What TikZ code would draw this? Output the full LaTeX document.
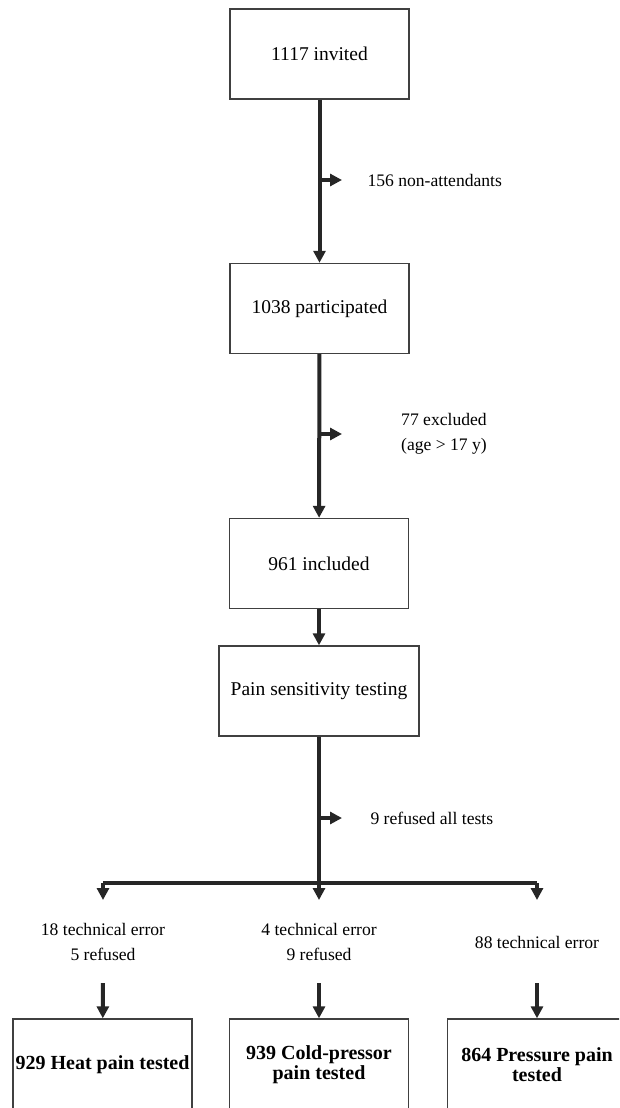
\documentclass[tikz,border=0pt]{standalone}
\usepackage{fontspec}
\setmainfont{Liberation Serif}
\usetikzlibrary{arrows.meta, positioning}

\begin{document}
\begin{tikzpicture}[
  x=1pt, y=-1pt,
  box/.style={draw=black!75, line width=1.4pt, minimum width=179pt, minimum height=90pt,
    inner sep=0pt, align=center, font=\fontsize{19.5}{25}\selectfont},
  endbox/.style={box, minimum height=92pt, font=\fontsize{20}{20}\selectfont\bfseries},
  lbl/.style={align=center, font=\fontsize{17.6}{25}\selectfont},
  flow/.style={line width=4pt, draw=black!85, -{Triangle[length=12pt, width=12pt]}},
  bar/.style={line width=4pt, draw=black!85},
]
  \useasboundingbox (0,0) rectangle (619,1108);
  \clip (0,0) rectangle (619,1108);

  % ── Main boxes ──
  \node[box] (invited) at (319.5,54) {1117 invited};
  \node[box] (particip) at (319.5,308.5) {1038 participated};
  \node[box] (included) at (319,563.5) {961 included};
  \node[box, minimum width=200pt] (testing) at (319,691) {Pain sensitivity testing};

  \draw[flow] (invited) -- (particip);
  \draw[flow] (particip) -- (included);
  \draw[flow] (included) -- (testing);

  % ── Drop-outs ──
  \coordinate (out1) at (319,180);
  \coordinate (out1e) at (342,180);
  \draw[flow] (out1) -- (out1e);
  \node[lbl, anchor=west] (nonatt) at (364,180) {156 non-attendants};

  \coordinate (out2) at (319,434);
  \coordinate (out2e) at (342,434);
  \draw[flow] (out2) -- (out2e);
  \node[lbl] (excl) at (444,433.5) {77 excluded\\(age > 17 y)};

  \coordinate (out3) at (319,818);
  \coordinate (out3e) at (342,818);
  \draw[flow] (out3) -- (out3e);
  \node[lbl, anchor=west] (refall) at (367,818) {9 refused all tests};

  % ── Split into the three tests ──
  \coordinate (split) at (319,883);
  \coordinate (splitL) at (103,883);
  \coordinate (splitR) at (537,883);
  \draw[bar] (testing) -- (split);
  \draw[bar] (splitL) -- (splitR);
  \foreach \n/\x in {A/103, B/319, C/537} {
    \coordinate (tip\n) at (\x,900);
    \coordinate (down\n) at (\x,983);
  }
  \draw[flow] (splitL) -- (tipA);
  \draw[flow] (split) -- (tipB);
  \draw[flow] (splitR) -- (tipC);

  \node[lbl] (errA) at (103,941.5) {18 technical error\\5 refused};
  \node[lbl] (errB) at (319,941.5) {4 technical error\\9 refused};
  \node[lbl] (errC) at (537,942) {88 technical error};

  % ── Tested ──
  \node[endbox] (heat) at (102.5,1065) {929 Heat pain tested};
  \node[endbox] (cold) at (319,1065) {939 Cold-pressor\\pain tested};
  \node[endbox] (press) at (537,1065) {864 Pressure pain\\tested};

  \draw[flow] (downA) -- (heat);
  \draw[flow] (downB) -- (cold);
  \draw[flow] (downC) -- (press);

\end{tikzpicture}
\end{document}
